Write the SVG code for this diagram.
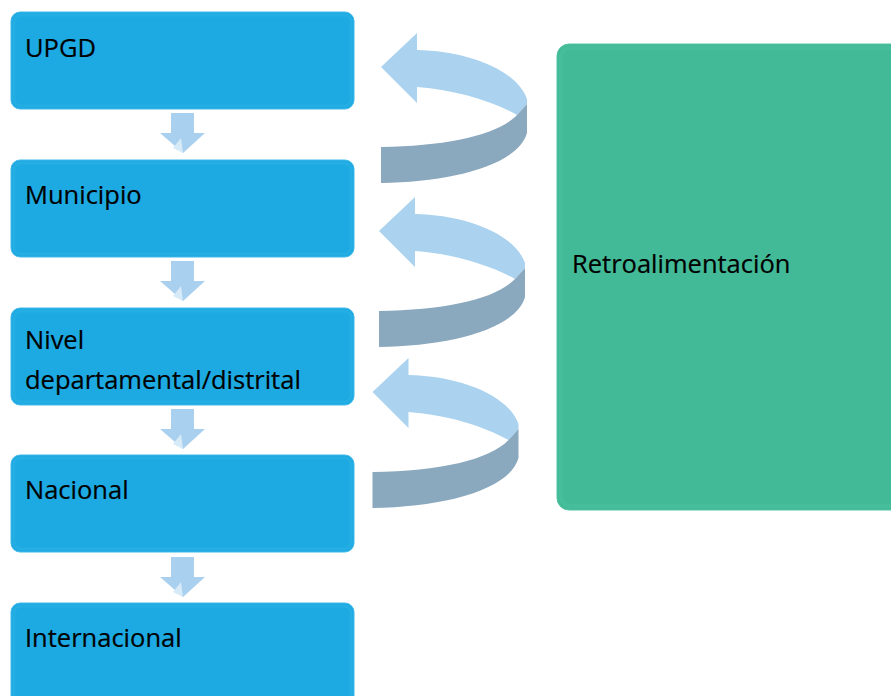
<svg xmlns="http://www.w3.org/2000/svg" xmlns:xlink="http://www.w3.org/1999/xlink" width="891" height="696" viewBox="0 0 891 696">
<style>
.box{fill:#1DA9E1;stroke:#3FB9EA;stroke-width:1}
.bev{fill:none;stroke:#25AEE4;stroke-width:3}
.green{fill:#43BA97;stroke:#52C4A2;stroke-width:1}
.gbev{fill:none;stroke:#47BE9B;stroke-width:4}
.t{font-family:"Open Sans","Noto Sans",sans-serif;font-size:25.5px;fill:#000;stroke:#000;stroke-width:0.2}
.light{fill:#ABD3EF}
.dark{fill:#8AA8BE}
.down{fill:#A9D0EF}
.fold{fill:#D6EAF8}
</style>
<defs>
<g id="curl">
<path class="light" d="M381,67 L417,33 L417,50 C468,51 517,70 527,99 L527,104 L517,115 C492,101 456,90 417,87 L417,103 Z"/>
<path class="dark" d="M517,115 L527,104 L527,133 C518,165 452,182 381,183 L381,147 C448,146 498,135 517,115 Z"/>
</g>
<g id="down">
<path class="down" d="M171,113 L194,113 L194,133 L205,133 L183,153 L160,133 L171,133 Z"/>
<path class="fold" d="M173,148 L181,138 L183,153 Z"/>
</g>
</defs>
<g id="connectors">
<use xlink:href="#curl"/>
<use xlink:href="#curl" transform="translate(-2,164)"/>
<use xlink:href="#curl" transform="translate(-8.5,325)"/>
<use xlink:href="#down"/>
<use xlink:href="#down" transform="translate(0,148)"/>
<use xlink:href="#down" transform="translate(0,296)"/>
<use xlink:href="#down" transform="translate(0,444)"/>
</g>
<g id="upgd">
<rect class="box" x="11" y="12" width="343" height="97" rx="9"/>
<rect class="bev" x="14" y="15" width="337" height="91" rx="7"/>
<text class="t" x="25" y="57">UPGD</text>
</g>
<g id="municipio">
<rect class="box" x="11" y="160" width="343" height="97" rx="9"/>
<rect class="bev" x="14" y="163" width="337" height="91" rx="7"/>
<text class="t" x="25" y="204">Municipio</text>
</g>
<g id="nivel">
<rect class="box" x="11" y="308" width="343" height="97" rx="9"/>
<rect class="bev" x="14" y="311" width="337" height="91" rx="7"/>
<text class="t" x="25" y="349">Nivel</text>
<text class="t" x="25" y="389">departamental/distrital</text>
</g>
<g id="nacional">
<rect class="box" x="11" y="455" width="343" height="97" rx="9"/>
<rect class="bev" x="14" y="458" width="337" height="91" rx="7"/>
<text class="t" x="25" y="499">Nacional</text>
</g>
<g id="internacional">
<rect class="box" x="11" y="603" width="343" height="110" rx="9"/>
<rect class="bev" x="14" y="606" width="337" height="104" rx="7"/>
<text class="t" x="25" y="647">Internacional</text>
</g>
<g id="retroalimentacion">
<rect class="green" x="557" y="44" width="350" height="466" rx="12"/>
<rect class="gbev" x="561" y="48" width="350" height="458" rx="9"/>
<text class="t" x="572" y="273">Retroalimentación</text>
</g>
</svg>
